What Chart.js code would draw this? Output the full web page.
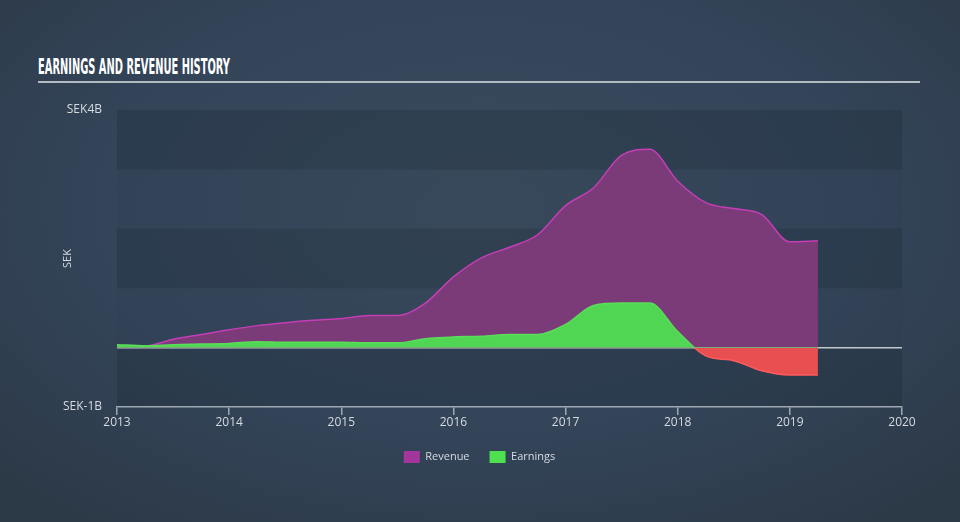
<!DOCTYPE html>
<html>
<head>
<meta charset="utf-8">
<script src="https://cdn.jsdelivr.net/npm/chart.js@4.4.1/dist/chart.umd.min.js"></script>
<style>
  html, body { margin: 0; padding: 0; }
  body {
    width: 960px; height: 522px; overflow: hidden; position: relative;
    background: radial-gradient(ellipse 70% 75% at 50% 40%, #3a4b5d 0%, #34455a 55%, #2c3947 100%);
    font-family: "Open Sans", sans-serif;
  }
  #title {
    position: absolute; left: 38px; top: 55px;
    font-family: "Liberation Sans Narrow", "DejaVu Sans Condensed", sans-serif;
    font-weight: bold; font-size: 22px; color: #ffffff;
    transform-origin: 0 0; white-space: nowrap; line-height: 24px;
  }
  #rule {
    position: absolute; left: 38px; top: 81px; width: 882px; height: 2px;
    background: #b4bac2;
  }
  canvas { position: absolute; left: 0; top: 0; }
</style>
</head>
<body>
<div id="title">EARNINGS AND REVENUE HISTORY</div>
<div id="rule"></div>
<canvas id="c" width="960" height="522"></canvas>
<script>
// Data (SEK billions), quarterly
const periods = [2013.00, 2013.25, 2013.50, 2013.75, 2014.00, 2014.25, 2014.50, 2014.75,
                 2015.00, 2015.25, 2015.50, 2015.75, 2016.00, 2016.25, 2016.50, 2016.75,
                 2017.00, 2017.25, 2017.50, 2017.75, 2018.00, 2018.25, 2018.50, 2018.75,
                 2019.00, 2019.25];
const revenue = [0.03, 0.03, 0.14, 0.22, 0.30, 0.37, 0.42, 0.46,
                 0.49, 0.54, 0.54, 0.75, 1.19, 1.51, 1.69, 1.90,
                 2.39, 2.69, 3.24, 3.34, 2.80, 2.44, 2.34, 2.24,
                 1.78, 1.80];
const earnings = [0.05, 0.03, 0.05, 0.06, 0.07, 0.10, 0.09, 0.09,
                  0.09, 0.08, 0.08, 0.15, 0.18, 0.19, 0.22, 0.22,
                  0.39, 0.71, 0.75, 0.75, 0.27, -0.14, -0.22, -0.39,
                  -0.46, -0.46];
const yearTicks = [2013, 2014, 2015, 2016, 2017, 2018, 2019, 2020];
const yTickLabels = { "4": "SEK4B", "-1": "SEK-1B" };

// squeeze title to reference width
(function () {
  const t = document.getElementById('title');
  const w = t.getBoundingClientRect().width;
  t.style.transform = 'scaleX(' + (192 / w) + ')';
})();

const bandsPlugin = {
  id: 'bands',
  beforeDraw(chart) {
    const { ctx, chartArea, scales } = chart;
    const y = scales.y;
    ctx.save();
    for (let v = -1; v < 4; v++) {
      const top = y.getPixelForValue(v + 1);
      const bot = y.getPixelForValue(v);
      const dark = (v === -1 || v === 1 || v === 3);
      ctx.fillStyle = dark ? 'rgba(20,30,42,0.22)' : 'rgba(20,30,42,0.04)';
      ctx.fillRect(chartArea.left, top, chartArea.right - chartArea.left, bot - top);
    }
    ctx.restore();
  }
};

// two-colour vertical split at zero, built from the y scale
function splitAtZero(chart, upColor, downColor) {
  const { ctx, chartArea, scales } = chart;
  if (!chartArea || !scales.y) return upColor;
  const z = scales.y.getPixelForValue(0);
  const g = ctx.createLinearGradient(0, chartArea.top, 0, chartArea.bottom);
  const f = Math.min(1, Math.max(0, (z - chartArea.top) / (chartArea.bottom - chartArea.top)));
  g.addColorStop(0, upColor);
  g.addColorStop(f, upColor);
  g.addColorStop(f, downColor);
  g.addColorStop(1, downColor);
  return g;
}

const revPts = periods.map((p, i) => ({ x: p, y: revenue[i] }));
const earnPts = periods.map((p, i) => ({ x: p, y: earnings[i] }));

const labelColor = '#d6dbe0';
const axisColor = '#9ea8b3';
const legendColors = ['#a3369c', '#4fe050'];

new Chart(document.getElementById('c'), {
  type: 'line',
  data: {
    datasets: [
      {
        label: 'Revenue',
        data: revPts,
        order: 1,
        borderColor: '#c33fb5',
        borderWidth: 1.5,
        backgroundColor: '#7b3a78',
        fill: 'origin',
        pointRadius: 0,
        cubicInterpolationMode: 'monotone'
      },
      {
        label: 'Earnings',
        data: earnPts,
        order: 0,
        borderColor: (c) => splitAtZero(c.chart, '#58de58', '#ff5a5a'),
        borderWidth: 1.5,
        backgroundColor: (c) => splitAtZero(c.chart, '#50d653', '#e84f50'),
        fill: 'origin',
        pointRadius: 0,
        cubicInterpolationMode: 'monotone'
      }
    ]
  },
  options: {
    responsive: false,
    animation: false,
    devicePixelRatio: 1,
    layout: { padding: { left: 57, right: 58, top: 110, bottom: 49 } },
    plugins: {
      tooltip: { enabled: false },
      legend: {
        position: 'bottom',
        labels: {
          color: labelColor,
          font: { family: 'Open Sans', size: 11 },
          boxWidth: 16,
          boxHeight: 12,
          padding: 20,
          generateLabels: (chart) => chart.data.datasets.map((ds, i) => ({
            text: ds.label,
            fillStyle: legendColors[i],
            strokeStyle: legendColors[i],
            lineWidth: 0,
            fontColor: labelColor,
            datasetIndex: i,
            hidden: false
          }))
        }
      }
    },
    scales: {
      x: {
        type: 'linear',
        min: 2013,
        max: 2020,
        afterBuildTicks: (s) => { s.ticks = yearTicks.map(v => ({ value: v })); },
        afterFit: (s) => { s.height = 24; },
        ticks: {
          color: labelColor,
          font: { family: 'Open Sans', size: 12 },
          padding: 0,
          maxRotation: 0,
          callback: (v) => String(v)
        },
        grid: { drawOnChartArea: false, drawTicks: true, tickLength: 8, color: axisColor, lineWidth: 1.5 },
        border: { display: true, color: axisColor, width: 1.5 }
      },
      y: {
        min: -1,
        max: 4,
        afterBuildTicks: (s) => { s.ticks = [-1, 0, 1, 2, 3, 4].map(v => ({ value: v })); },
        afterFit: (s) => { s.width = 60; },
        ticks: {
          color: labelColor,
          font: { family: 'Open Sans', size: 12 },
          padding: 15,
          callback: (v) => yTickLabels[String(v)] || ''
        },
        grid: {
          drawTicks: false,
          color: (c) => c.tick && c.tick.value === 0 ? '#c3c8ce' : 'rgba(0,0,0,0)',
          lineWidth: 1.5
        },
        border: { display: false },
        title: {
          display: true,
          text: 'SEK',
          color: labelColor,
          font: { family: 'Open Sans', size: 11 },
          padding: 4
        }
      }
    }
  },
  plugins: [bandsPlugin]
});
</script>
</body>
</html>
